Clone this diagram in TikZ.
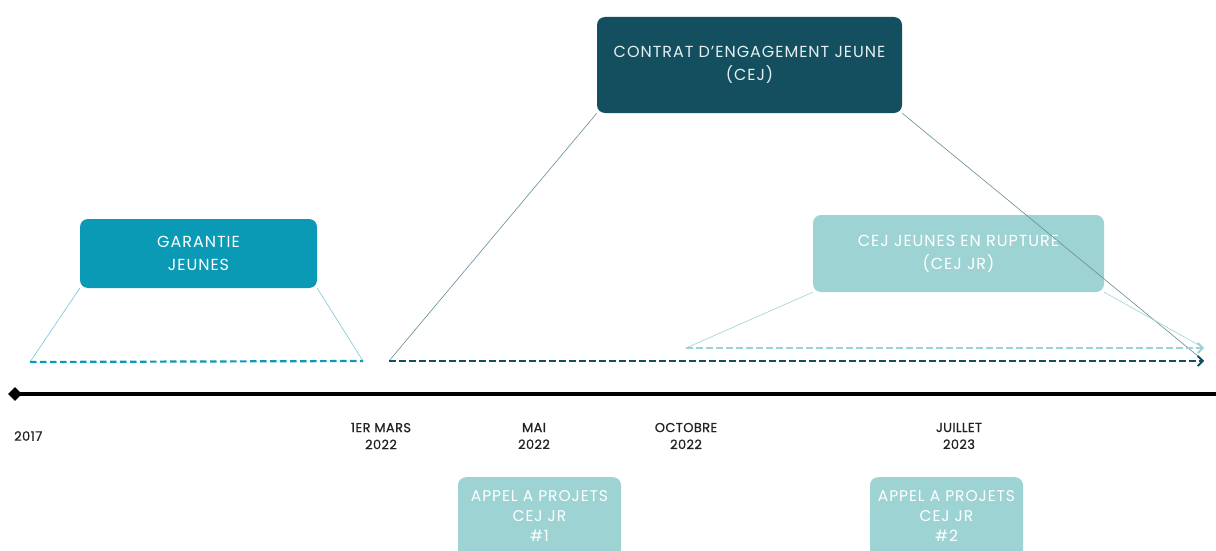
\documentclass[tikz,border=0pt]{standalone}
\usepackage{fontspec}
\setmainfont{Poppins}
\usetikzlibrary{arrows.meta,shapes.geometric}
\definecolor{gjblue}{HTML}{0A9AB5}
\definecolor{cejdark}{HTML}{134F5F}
\definecolor{jrlight}{HTML}{9ED3D4}
\definecolor{datetxt}{HTML}{222222}
\definecolor{boxtxt}{HTML}{E6EEF0}
\newfontfamily\boxfont{Poppins}[LetterSpace=6]
\newfontfamily\datefont{Poppins}[LetterSpace=3,FakeBold=0.7]
\tikzset{
  period/.style={rounded corners=8pt, align=center, inner sep=0pt, font=\boxfont\fontsize{16}{23}\selectfont},
  aaptext/.style={text=white, align=center, inner sep=0pt, font=\boxfont\fontsize{15.5}{20}\selectfont},
  datelbl/.style={align=center, text=datetxt, font=\datefont\fontsize{13}{17}\selectfont, inner sep=0pt},
  span/.style={dashed, dash pattern=on 6.5pt off 3.5pt, line width=2.2pt},
  guide/.style={line width=0.6pt},
  barb/.style={-{Straight Barb[length=5pt,width=10pt,line width=1.8pt]}},
}
\begin{document}
\begin{tikzpicture}[x=1pt,y=-1pt]
\useasboundingbox (0,0) rectangle (1216,551);
\clip (0,0) rectangle (1216,551);
\fill[white] (0,0) rectangle (1216,551);

% period boxes
\node[period, fill=gjblue, text=white, minimum width=237pt, minimum height=69pt] (gj) at (198.5,253.5) {GARANTIE\\JEUNES};
\node[period, fill=cejdark, text=boxtxt, minimum width=305pt, minimum height=96pt] (cej) at (749.5,65) {CONTRAT D’ENGAGEMENT JEUNE\\(CEJ)};
\node[period, fill=jrlight, text=white, minimum width=291pt, minimum height=77pt] (jr) at (958.5,253.5) {CEJ JEUNES EN RUPTURE\\(CEJ JR)};

% span coordinates
\coordinate (gjs) at (30,362);
\coordinate (gje) at (363,361);
\coordinate (cejs) at (389,361);
\coordinate (ceje) at (1204,361);
\coordinate (jrs) at (686,348);
\coordinate (jre) at (1204,348);

% guide lines
\draw[guide, gjblue!55] (gjs) -- (gj.south west);
\draw[guide, gjblue!55] (gje) -- (gj.south east);
\draw[guide, cejdark!65] (cejs) -- (cej.south west);
\draw[guide, cejdark!65] (cej.south east) -- (ceje);
\draw[guide, jrlight] (jrs) -- (jr.south west);
\draw[guide, jrlight] (jr.south east) -- (jre);

% spans
\draw[span, gjblue] (gjs) -- (gje);
\draw[span, jrlight, barb] (jrs) -- (jre);
\draw[span, cejdark, barb] (cejs) -- (ceje);

% timeline
\node[diamond, fill=black, inner sep=0pt, minimum width=14pt, minimum height=14pt] (start) at (15,394) {};
\coordinate (tend) at (1218,394);
\draw[line width=3.4pt] (start.center) -- (tend);

% dates
\node[datelbl, anchor=west] (d2017) at (14,436) {2017};
\node[datelbl] (dmars) at (381,436) {1ER MARS\\2022};
\node[datelbl] (dmai) at (534,436) {MAI\\2022};
\node[datelbl] (doct) at (686,436) {OCTOBRE\\2022};
\node[datelbl] (djuil) at (959,436) {JUILLET\\2023};

% calls for projects
\node[period, fill=jrlight, minimum width=163pt, minimum height=90pt, anchor=north] (aap1) at (539.5,477) {};
\node[aaptext] (aap1t) at (539.5,516) {APPEL A PROJETS\\CEJ JR\\\#1};
\node[period, fill=jrlight, minimum width=153pt, minimum height=90pt, anchor=north] (aap2) at (946.5,477) {};
\node[aaptext] (aap2t) at (946.5,516) {APPEL A PROJETS\\CEJ JR\\\#2};
\end{tikzpicture}
\end{document}
